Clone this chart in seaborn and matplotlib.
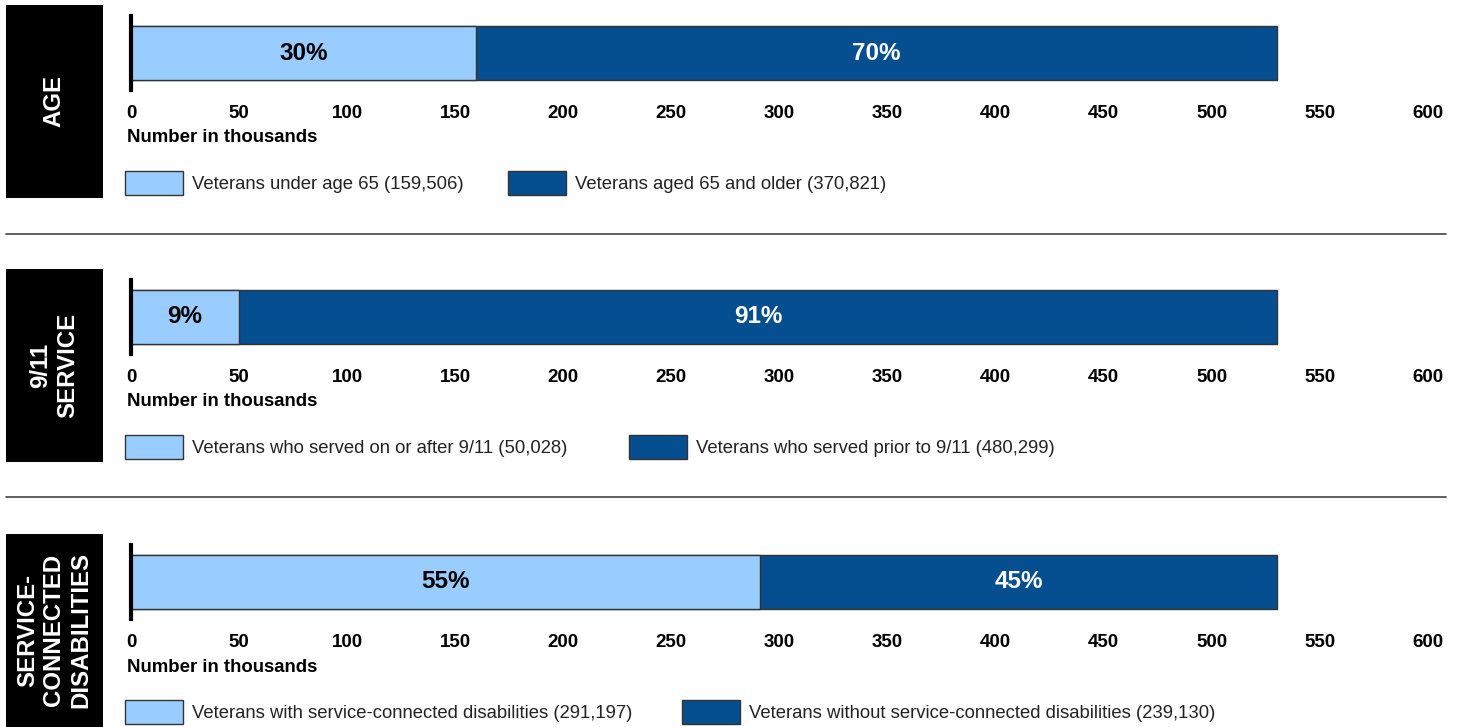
import matplotlib
matplotlib.use('Agg')
import matplotlib.pyplot as plt
from matplotlib.patches import Patch, Rectangle
from matplotlib.lines import Line2D
import seaborn as sns
import pandas as pd

# values in thousands
panel_titles = ['AGE', '9/11\nSERVICE', 'SERVICE-\nCONNECTED\nDISABILITIES']
first_values = [159.506, 50.028, 291.197]
second_values = [370.821, 480.299, 239.130]
first_pcts = ['30%', '9%', '55%']
second_pcts = ['70%', '91%', '45%']
first_labels = ['Veterans under age 65 (159,506)',
                'Veterans who served on or after 9/11 (50,028)',
                'Veterans with service-connected disabilities (291,197)']
second_labels = ['Veterans aged 65 and older (370,821)',
                 'Veterans who served prior to 9/11 (480,299)',
                 'Veterans without service-connected disabilities (239,130)']
x_ticks = [0, 50, 100, 150, 200, 250, 300, 350, 400, 450, 500, 550, 600]

LIGHT = '#99ccff'
DARK = '#054e90'
EDGE = '#333333'

sns.set_style('white')
plt.rcParams['font.family'] = ['Liberation Sans', 'DejaVu Sans']
plt.rcParams['text.color'] = 'black'
plt.rcParams['xtick.color'] = 'black'

W, H = 1460, 727
fig = plt.figure(figsize=(W / 100, H / 100), dpi=100)

def fx(px):
    return px / W

def fy(py):
    return 1 - py / H

offsets = [0, 264, 529]
col_spacing = [2.4, 3.32, 2.7]

for i, off in enumerate(offsets):
    # black title block
    fig.patches.append(Rectangle((fx(6), fy(198 + off)), fx(103) - fx(6), (198 - 5) / H,
                                 transform=fig.transFigure, facecolor='black',
                                 edgecolor='none'))
    fig.text(fx(54), fy(101 + off), panel_titles[i], rotation=90, color='white',
             fontsize=17.3, fontweight='bold', ha='center', va='center',
             multialignment='center')

    ax = fig.add_axes([fx(131), fy(90 + off), fx(1428) - fx(131), 74 / H])
    total = first_values[i] + second_values[i]
    df = pd.DataFrame({'group': ['all', 'all'],
                       'value': [total, first_values[i]],
                       'part': ['second', 'first']})
    sns.barplot(data=df[df.part == 'second'], x='value', y='group', orient='h',
                color=DARK, width=0.74, edgecolor=EDGE, linewidth=1, ax=ax,
                saturation=1)
    sns.barplot(data=df[df.part == 'first'], x='value', y='group', orient='h',
                color=LIGHT, width=0.74, edgecolor=EDGE, linewidth=1, ax=ax,
                saturation=1)
    ax.set_ylim(0.5, -0.5)
    ax.set_xlim(0, 600)
    ax.set_xticks(x_ticks)
    ax.set_xticklabels([str(t) for t in x_ticks], fontsize=13.5, fontweight='bold',
                       color='black')
    ax.tick_params(axis='x', length=0, pad=11)
    ax.set_yticks([])
    ax.set_xlabel('')
    ax.set_ylabel('')
    for s in ['top', 'right', 'bottom']:
        ax.spines[s].set_visible(False)
    ax.spines['left'].set_color('black')
    ax.spines['left'].set_linewidth(3)
    ax.set_facecolor('none')

    ax.text(first_values[i] / 2, 0, first_pcts[i], ha='center', va='center',
            fontsize=17.5, fontweight='bold', color='black')
    ax.text(first_values[i] + second_values[i] / 2, 0, second_pcts[i], ha='center',
            va='center', fontsize=17.5, fontweight='bold', color='white')

    fig.text(fx(127), fy(138 + off), 'Number in thousands', fontsize=13.4,
             fontweight='bold', ha='left', va='center', color='black')

    handles = [Patch(facecolor=LIGHT, edgecolor=EDGE, linewidth=1),
               Patch(facecolor=DARK, edgecolor=EDGE, linewidth=1)]
    fig.legend(handles, [first_labels[i], second_labels[i]], loc='center left',
               bbox_to_anchor=(fx(125), fy(183 + off)), ncol=2, frameon=False,
               fontsize=13.3, handlelength=3.14, handleheight=1.62,
               handletextpad=0.49, columnspacing=col_spacing[i], borderpad=0,
               borderaxespad=0, labelcolor='#222222')

# separators between panels
for py in [234, 497]:
    fig.lines.append(Line2D([fx(6), fx(1446)], [fy(py), fy(py)],
                            transform=fig.transFigure, color='#444444', linewidth=1.2))

fig.savefig('out.png', dpi=100)
